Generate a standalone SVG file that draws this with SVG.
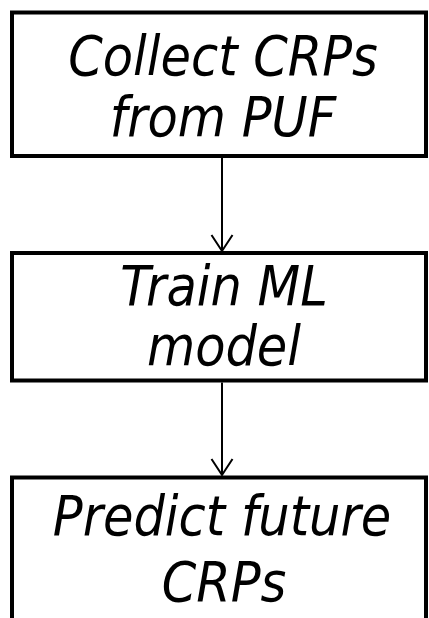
<svg xmlns="http://www.w3.org/2000/svg" width="429" height="618" viewBox="0 0 429 618">
<style>
.box{fill:#fff;stroke:#000;stroke-width:4}
.lbl{font-family:"DejaVu Sans Condensed","DejaVu Sans",sans-serif;font-stretch:condensed;font-style:italic;font-size:55px;fill:#000;text-anchor:middle}
.conn line,.conn polyline{fill:none;stroke:#000;stroke-width:2}
</style>
<rect width="429" height="618" fill="#fff"/>
<g id="node1">
<rect class="box" x="12" y="12.5" width="414" height="143.5"/>
<text class="lbl" x="223" y="75">Collect CRPs</text>
<text class="lbl" x="223" y="136">from PUF</text>
</g>
<g id="node2">
<rect class="box" x="12" y="253" width="414" height="127.5"/>
<text class="lbl" x="224" y="305">Train ML</text>
<text class="lbl" x="224" y="365">model</text>
</g>
<g id="node3">
<rect class="box" x="12" y="477.5" width="414" height="170"/>
<text class="lbl" x="222" y="535">Predict future</text>
<text class="lbl" x="224" y="601">CRPs</text>
</g>
<g id="connectors" class="conn">
<line x1="222" y1="158" x2="222" y2="250"/>
<polyline points="211.5,235 222,251 232.5,235"/>
<line x1="222" y1="382.5" x2="222" y2="475"/>
<polyline points="211.5,459 222,475 232.5,459"/>
</g>
</svg>
